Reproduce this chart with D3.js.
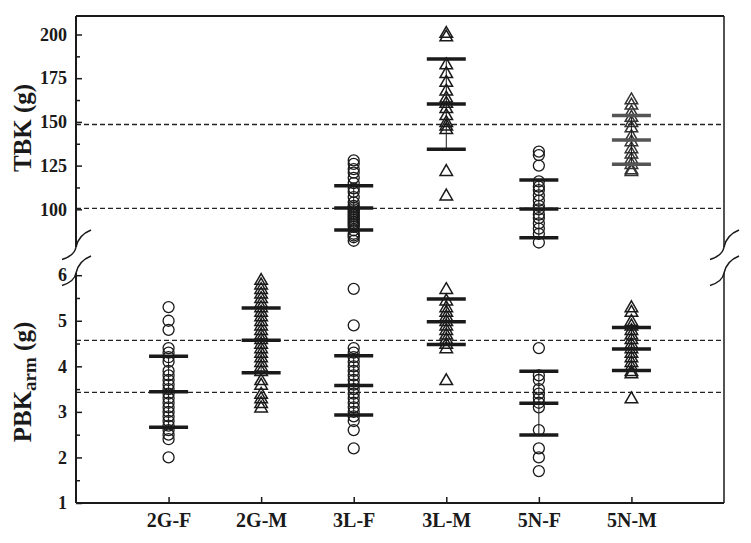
<!DOCTYPE html>
<html>
<head>
<meta charset="utf-8">
<script src="https://cdn.jsdelivr.net/npm/d3@7"></script>
<style>
  body { margin: 0; background: #fff; }
  svg { display: block; font-family: "Liberation Serif", "DejaVu Serif", serif; font-weight: bold; }
</style>
</head>
<body>
<svg id="chart" width="751" height="543"></svg>
<script>
const categories = ["2G-F", "2G-M", "3L-F", "3L-M", "5N-F", "5N-M"];

// TBK (g), upper panel (no values for the 2G groups)
const tbk3LF = [128, 126, 123, 121, 118, 115, 112, 110, 107, 104, 102, 101, 100, 99, 98, 97, 96, 95, 94, 93, 92, 91, 90, 88, 86, 85, 84, 82];
const tbk3LM = [201, 199, 183, 178, 173, 168, 164, 161, 158, 154, 150, 148, 146, 122, 108];
const tbk5NF = [133, 131, 125, 116, 113, 111, 108, 105, 102, 100, 97, 95, 92, 89, 86, 81];
const tbk5NM = [163, 160, 156, 153, 150, 147, 142, 139, 135, 132, 129, 126, 123, 122];
const tbkMean = [null, null, 100.8, 160.2, 100.2, 139.7];
const tbkSD = [null, null, 12.7, 25.8, 16.5, 13.9];
const tbkRef = [148.5, 100.5];
const tbkTicks = [100, 125, 150, 175, 200];

// PBK arm (g), lower panel
const pbk2GF = [5.3, 5.0, 4.8, 4.4, 4.3, 4.2, 4.1, 3.9, 3.8, 3.7, 3.6, 3.5, 3.4, 3.3, 3.2, 3.1, 3.0, 2.9, 2.8, 2.7, 2.6, 2.5, 2.4, 2.0];
const pbk2GM = [5.9, 5.8, 5.7, 5.6, 5.5, 5.4, 5.3, 5.2, 5.1, 5.0, 4.9, 4.8, 4.7, 4.6, 4.5, 4.4, 4.3, 4.2, 4.1, 4.0, 3.9, 3.7, 3.6, 3.4, 3.3, 3.2, 3.1];
const pbk3LF = [5.7, 4.9, 4.4, 4.3, 4.2, 4.1, 4.0, 3.9, 3.8, 3.7, 3.6, 3.5, 3.4, 3.3, 3.2, 3.1, 3.0, 2.9, 2.8, 2.6, 2.2];
const pbk3LM = [5.7, 5.45, 5.3, 5.2, 5.1, 5.0, 4.9, 4.8, 4.7, 4.6, 4.5, 4.4, 3.7];
const pbk5NF = [4.4, 3.8, 3.7, 3.5, 3.4, 3.3, 3.2, 3.1, 2.6, 2.2, 2.0, 1.7];
const pbk5NM = [5.3, 5.2, 5.0, 4.9, 4.8, 4.7, 4.6, 4.5, 4.4, 4.3, 4.2, 4.1, 4.0, 3.9, 3.85, 3.3];
const pbkMean = [3.44, 4.57, 3.58, 4.98, 3.19, 4.38];
const pbkSD = [0.78, 0.71, 0.65, 0.50, 0.70, 0.47];
const pbkRef = [4.57, 3.43];
const pbkTicks = [1, 2, 3, 4, 5, 6];

const svg = d3.select("#chart");
const plotLeft = 76, plotRight = 724, plotTop = 16, plotBottom = 503;
const upperBottom = 247, lowerTop = 273;
const ink = "#1a1a1a";

const x = d3.scalePoint().domain(categories).range([plotLeft, plotRight]).padding(1);

const yTop = d3.scaleLinear().domain([100, 200]).range([209.3, 34.5]);
const yBot = d3.scaleLinear().domain([1, 6]).range([plotBottom, 275.2]);

const tbkPoints = [["3L-F", tbk3LF], ["3L-M", tbk3LM], ["5N-F", tbk5NF], ["5N-M", tbk5NM]]
  .flatMap(([c, vals]) => vals.map(v => ({ cat: c, v })));
const pbkPoints = [["2G-F", pbk2GF], ["2G-M", pbk2GM], ["3L-F", pbk3LF], ["3L-M", pbk3LM], ["5N-F", pbk5NF], ["5N-M", pbk5NM]]
  .flatMap(([c, vals]) => vals.map(v => ({ cat: c, v })));

// dashed reference lines
svg.append("g").selectAll("line")
  .data(tbkRef.map(yTop).concat(pbkRef.map(yBot)))
  .join("line")
  .attr("x1", plotLeft).attr("x2", plotRight)
  .attr("y1", d => d).attr("y2", d => d)
  .attr("stroke", "#222").attr("stroke-width", 1.3).attr("stroke-dasharray", "5,3");

// frame: top line, axis segments, right side
const frame = svg.append("g").attr("stroke", ink).attr("fill", "none");
frame.append("line").attr("x1", plotLeft).attr("x2", plotRight).attr("y1", plotTop).attr("y2", plotTop).attr("stroke-width", 2);
frame.append("line").attr("x1", plotLeft).attr("x2", plotRight).attr("y1", plotBottom).attr("y2", plotBottom).attr("stroke-width", 2);
[plotLeft, plotRight].forEach(xx => {
  frame.append("line").attr("x1", xx).attr("x2", xx).attr("y1", plotTop).attr("y2", upperBottom)
    .attr("stroke-width", xx === plotLeft ? 2 : 1.5);
  frame.append("line").attr("x1", xx).attr("x2", xx).attr("y1", lowerTop).attr("y2", plotBottom)
    .attr("stroke-width", xx === plotLeft ? 2 : 1.5);
});

// axis break marks
const breakPath = (bx, by) => {
  const p = d3.path();
  p.moveTo(bx - 14, by + 12.5);
  p.bezierCurveTo(bx - 6, by + 10, bx - 1, by + 6, bx, by);
  p.bezierCurveTo(bx + 1.5, by - 7, bx + 5, by - 13, bx + 15, by - 17);
  return p.toString();
};
[plotLeft, plotRight].forEach(xx => {
  [upperBottom, lowerTop].forEach(yy => {
    frame.append("path").attr("d", breakPath(xx, yy)).attr("stroke-width", 1.5);
  });
});

// left axes
const axTop = svg.append("g").attr("transform", `translate(${plotLeft},0)`)
  .call(d3.axisLeft(yTop).tickValues(tbkTicks).tickSize(-6).tickPadding(9));
svg.append("g").attr("transform", `translate(${plotLeft},0)`)
  .call(d3.axisLeft(yTop).tickValues([112.5, 137.5, 162.5, 187.5]).tickSize(-4).tickFormat(""));
const axBot = svg.append("g").attr("transform", `translate(${plotLeft},0)`)
  .call(d3.axisLeft(yBot).tickValues(pbkTicks).tickSize(-6).tickPadding(9).tickFormat(d3.format("d")));
svg.append("g").attr("transform", `translate(${plotLeft},0)`)
  .call(d3.axisLeft(yBot).tickValues([1.5, 2.5, 3.5, 4.5, 5.5]).tickSize(-4).tickFormat(""));

// bottom axis
svg.append("g").attr("transform", `translate(0,${plotBottom})`)
  .call(d3.axisBottom(x).tickSize(-6).tickSizeOuter(0).tickPadding(10))
  .call(g => g.selectAll("text").attr("font-size", 20));

svg.selectAll(".domain").remove();
svg.selectAll(".tick line").attr("stroke", ink).attr("stroke-width", 1.5);
svg.selectAll(".tick text").attr("fill", ink).attr("font-family", "Liberation Serif").attr("font-weight", "bold");
axTop.selectAll("text").attr("font-size", 18);
axBot.selectAll("text").attr("font-size", 18);

// y labels
svg.append("text")
  .attr("transform", `translate(31,128) rotate(-90)`)
  .attr("text-anchor", "middle").attr("font-size", 25).attr("fill", ink)
  .text("TBK (g)");
const pl = svg.append("text")
  .attr("transform", `translate(31,382) rotate(-90)`)
  .attr("text-anchor", "middle").attr("font-size", 25).attr("fill", ink);
pl.append("tspan").text("PBK");
pl.append("tspan").attr("font-size", 19).attr("dy", 5).text("arm");
pl.append("tspan").attr("dy", -5).text(" (g)");

// markers
const tri = d3.symbol().type(d3.symbolTriangle).size(68);
function drawPoints(points, y) {
  const g = svg.append("g").attr("fill", "none").attr("stroke", ink).attr("stroke-width", 1.3);
  g.selectAll("circle")
    .data(points.filter(d => d.cat.endsWith("F")))
    .join("circle")
    .attr("cx", d => x(d.cat)).attr("cy", d => y(d.v)).attr("r", 5.5);
  g.selectAll("path")
    .data(points.filter(d => d.cat.endsWith("M")))
    .join("path")
    .attr("d", tri)
    .attr("stroke-width", 1.5)
    .attr("stroke", d => (y === yTop && d.cat === "5N-M") ? "#333" : ink)
    .attr("transform", d => `translate(${x(d.cat)},${y(d.v) + 1})`);
}
drawPoints(tbkPoints, yTop);
drawPoints(pbkPoints, yBot);

// mean +/- SD bars
function drawBars(means, sds, y, grayCat) {
  const rows = categories.map((c, i) => ({ cat: c, m: means[i], s: sds[i] })).filter(d => d.m != null);
  const g = svg.append("g");
  g.selectAll("line.v")
    .data(rows).join("line").attr("class", "v")
    .attr("x1", d => x(d.cat)).attr("x2", d => x(d.cat))
    .attr("y1", d => y(d.m - d.s)).attr("y2", d => y(d.m + d.s))
    .attr("stroke", ink).attr("stroke-width", 1);
  const hs = rows.flatMap(d => [d.m - d.s, d.m, d.m + d.s].map(v => ({ cat: d.cat, v })));
  g.selectAll("line.h")
    .data(hs).join("line").attr("class", "h")
    .attr("x1", d => x(d.cat) - 19.5).attr("x2", d => x(d.cat) + 19.5)
    .attr("y1", d => y(d.v)).attr("y2", d => y(d.v))
    .attr("stroke", d => d.cat === grayCat ? "#555" : ink)
    .attr("stroke-width", 3.5);
}
drawBars(tbkMean, tbkSD, yTop, "5N-M");
drawBars(pbkMean, pbkSD, yBot, null);
</script>
</body>
</html>
